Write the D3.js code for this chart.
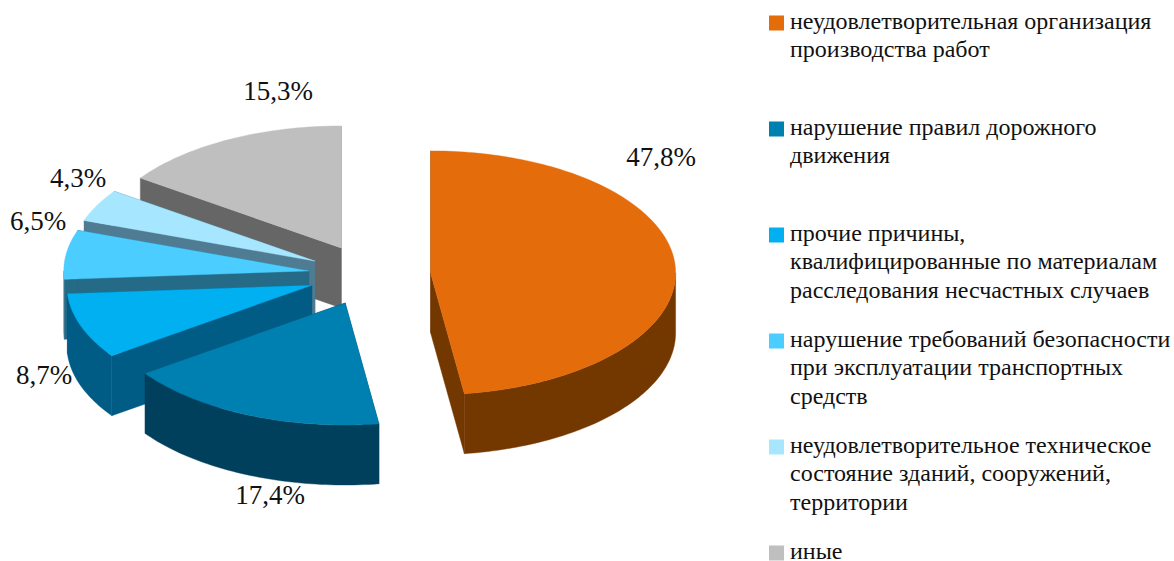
<!DOCTYPE html>
<html><head><meta charset="utf-8">
<style>html,body{margin:0;background:#fff}svg{display:block}text{font-family:"Liberation Serif","Times New Roman",serif;fill:#111}</style>
<script src="https://cdn.jsdelivr.net/npm/d3@7/dist/d3.min.js"></script></head><body>
<svg id="c" width="1174" height="561"></svg>
<script>
const categories=[
 ["неудовлетворительная организация","производства работ"],
 ["нарушение правил дорожного","движения"],
 ["прочие причины,","квалифицированные по материалам","расследования несчастных случаев"],
 ["нарушение требований безопасности","при эксплуатации транспортных","средств"],
 ["неудовлетворительное техническое","состояние зданий, сооружений,","территории"],
 ["иные"]];
const values=[47.8,17.4,8.7,6.5,4.3,15.3];
const valueLabels=["47,8%","17,4%","8,7%","6,5%","4,3%","15,3%"];
const topColors=["#E46C0A","#0080B0","#00B0F0","#4BCDFF","#A6E7FF","#BFBFBF"];
const sideColors=["#733700","#00405C","#005C85","#256A87","#4F7C92","#666666"];

// layout
const cx=369.5,cy=275,rx=245,ry=122,depth=60,explode=0.25;
const labelAnchors=[[661,158],[270,496],[44,376],[38,222],[78,179],[278,92]];
const svg=d3.select("#c");
const arcs=d3.pie().sort(null).startAngle(0).endAngle(2*Math.PI)(values);
const px=d3.scaleLinear().domain([-1,1]).range([-rx,rx]);
const py=d3.scaleLinear().domain([-1,1]).range([ry,-ry]);

function pt(a,o,dz){return [o[0]+px(Math.sin(a)),o[1]+py(Math.cos(a))+(dz||0)];}
function arcTo(p,a0,a1,o,dz){const n=Math.max(2,Math.ceil(Math.abs(a1-a0)/0.02));
  for(let i=0;i<=n;i++){const q=pt(a0+(a1-a0)*i/n,o,dz);p.lineTo(q[0],q[1]);}}
function topPath(d,o){const p=d3.path();p.moveTo(o[0],o[1]);arcTo(p,d.startAngle,d.endAngle,o,0);p.closePath();return p.toString();}
function wallPath(a,o){const e=pt(a,o,0),p=d3.path();p.moveTo(o[0],o[1]);p.lineTo(e[0],e[1]);p.lineTo(e[0],e[1]+depth);p.lineTo(o[0],o[1]+depth);p.closePath();return p.toString();}
function outerPath(d,o){const a0=Math.max(d.startAngle,Math.PI/2),a1=Math.min(d.endAngle,3*Math.PI/2);
  if(a1<=a0)return null;const p=d3.path(),s=pt(a0,o,0);p.moveTo(s[0],s[1]);arcTo(p,a0,a1,o,0);arcTo(p,a1,a0,o,depth);p.closePath();return p.toString();}

const order=[5,4,3,2,1,0];
const g=svg.append("g");
order.forEach(i=>{const d=arcs[i],m=(d.startAngle+d.endAngle)/2;
  const o=[cx+px(Math.sin(m))*explode,cy+py(Math.cos(m))*explode];
  const s=g.append("g").attr("class","slice");
  [d.startAngle,d.endAngle].forEach(a=>s.append("path").attr("d",wallPath(a,o)).attr("fill",sideColors[i]).attr("stroke",sideColors[i]).attr("stroke-width",0.4));
  const op=outerPath(d,o); if(op)s.append("path").attr("d",op).attr("fill",sideColors[i]).attr("stroke",sideColors[i]).attr("stroke-width",0.4);
  s.append("path").attr("d",topPath(d,o)).attr("fill",topColors[i]).attr("stroke",topColors[i]).attr("stroke-width",0.4);
});
svg.append("g").selectAll("text").data(valueLabels).join("text")
 .attr("x",(d,i)=>labelAnchors[i][0]).attr("y",(d,i)=>labelAnchors[i][1]+8)
 .attr("text-anchor","middle").attr("font-size",27).text(d=>d);

const leg=svg.append("g");
categories.forEach((lines,i)=>{const y0=22.5+i*106;
  leg.append("rect").attr("x",769).attr("y",y0-7).attr("width",15).attr("height",15).attr("fill",topColors[i]);
  lines.forEach((t,j)=>leg.append("text").attr("x",790).attr("y",y0+6.5+j*28.3).attr("font-size",24).text(t));
});
</script></body></html>
